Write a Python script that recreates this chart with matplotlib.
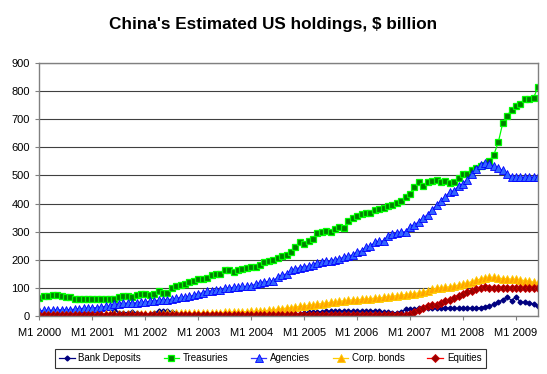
import matplotlib
matplotlib.use("Agg")
import matplotlib.pyplot as plt
import numpy as np

plt.rcParams["font.family"] = ["Liberation Sans", "DejaVu Sans"]

# monthly, M1 2000 .. M6 2009
TICK_LABELS = ["M1 %d" % y for y in range(2000, 2010)]

bank_deposits = [
    1, 1, 1, 1, 1, 1, 1, 1, 1, 1, 1, 1,
    1, 1, 1, 1, 1, 22, 12, 12, 12, 13, 10, 5,
    3, 3, 12, 16, 18, 18, 15, 12, 8, 5, 5, 5,
    5, 5, 5, 5, 5, 5, 5, 5, 5, 5, 5, 5,
    5, 5, 5, 5, 5, 5, 5, 5, 6, 6, 7, 8,
    10, 13, 14, 15, 15, 16, 16, 17, 17, 17, 18, 17,
    16, 16, 17, 18, 18, 17, 15, 13, 12, 12, 14, 24,
    25, 26, 27, 28, 28, 29, 29, 28, 28, 28, 27, 27,
    28, 28, 27, 28, 30, 33, 36, 41, 49, 58, 68, 55,
    68, 50, 48, 46, 42, 35,
]

treasuries = [
    64, 70, 72, 73, 75, 70, 67, 66, 62, 61, 60, 60,
    60, 60, 60, 60, 61, 61, 68, 70, 70, 68, 75, 78,
    78, 76, 78, 88, 82, 82, 98, 105, 110, 115, 120, 125,
    132, 133, 135, 146, 148, 148, 165, 162, 156, 163, 166, 172,
    175, 175, 180, 193, 195, 198, 205, 212, 217, 227, 246, 262,
    257, 267, 275, 294, 300, 302, 299, 310, 318, 313, 338, 350,
    356, 364, 368, 368, 376, 379, 383, 391, 394, 402, 408, 424,
    433, 459, 475, 464, 476, 479, 485, 478, 479, 473, 475, 491,
    506, 506, 520, 526, 534, 538, 553, 574, 618, 685, 712, 734,
    746, 753, 773, 773, 776, 814,
]

agencies = [
    18, 20, 20, 21, 22, 22, 22, 23, 24, 26, 27, 28,
    29, 30, 32, 34, 35, 42, 44, 45, 46, 46, 47, 48,
    50, 52, 54, 56, 58, 58, 60, 63, 66, 68, 70, 73,
    80, 82, 88, 90, 92, 94, 98, 100, 102, 103, 105, 105,
    108, 113, 118, 122, 123, 125, 138, 145, 150, 162, 168, 172,
    176, 178, 182, 190, 193, 195, 196, 200, 203, 210, 213, 218,
    228, 232, 245, 248, 262, 265, 268, 285, 292, 296, 298, 300,
    318, 325, 335, 350, 360, 378, 394, 410, 425, 440, 446, 462,
    470, 485, 505, 522, 536, 544, 541, 532, 526, 518, 506, 496,
    494, 494, 494, 495, 494, 494,
]

corp_bonds = [
    3, 3, 3, 3, 4, 4, 4, 4, 4, 5, 5, 5,
    5, 5, 5, 6, 6, 6, 6, 6, 7, 7, 7, 7,
    7, 8, 8, 8, 8, 9, 9, 9, 9, 10, 10, 10,
    10, 11, 11, 11, 12, 12, 13, 13, 14, 14, 15, 15,
    16, 17, 18, 19, 20, 22, 24, 26, 28, 30, 32, 34,
    36, 38, 40, 42, 44, 46, 48, 50, 52, 54, 56, 57,
    58, 59, 60, 62, 63, 64, 66, 68, 70, 72, 74, 76,
    78, 80, 82, 85, 90, 95, 98, 100, 102, 104, 107, 110,
    113, 118, 122, 127, 132, 135, 138, 137, 135, 133, 132, 131,
    130, 128, 126, 124, 120, 116,
]

equities = [
    2, 2, 2, 2, 2, 2, 2, 2, 2, 2, 2, 2,
    2, 2, 2, 2, 2, 2, 2, 2, 2, 2, 2, 2,
    2, 2, 2, 2, 2, 2, 2, 2, 2, 2, 2, 2,
    3, 3, 3, 3, 3, 3, 3, 3, 3, 3, 3, 3,
    3, 3, 3, 3, 3, 3, 3, 3, 3, 3, 3, 3,
    4, 4, 4, 4, 4, 4, 4, 4, 4, 4, 4, 4,
    4, 4, 4, 4, 4, 4, 4, 4, 4, 4, 4, 4,
    8, 14, 20, 30, 34, 38, 40, 46, 52, 58, 64, 72,
    80, 86, 90, 95, 100, 102, 101, 101, 100, 101, 101, 100,
    100, 101, 100, 100, 101, 100,
]

SERIES = [
    ("Bank Deposits", bank_deposits, dict(color="#000080", marker="D", ms=2.5,
                                          mfc="#000080", mec="#000080", lw=0.9)),
    ("Treasuries", treasuries, dict(color="#00FF00", marker="s", ms=5,
                                    mfc="#008000", mec="#00FF00", mew=0.9, lw=0.9)),
    ("Agencies", agencies, dict(color="#3333FF", marker="^", ms=5.5,
                                mfc="#3366FF", mec="#0000FF", mew=0.6, lw=0.9)),
    ("Corp. bonds", corp_bonds, dict(color="#FFCC00", marker="^", ms=5.5,
                                     mfc="#FFA500", mec="#FFCC00", mew=0.6, lw=0.9)),
    ("Equities", equities, dict(color="#FF0000", marker="D", ms=4,
                                mfc="#990000", mec="#CC0000", mew=0.6, lw=0.9)),
]

fig = plt.figure(figsize=(5.47, 3.74), dpi=100)
ax = fig.add_axes([0.0722, 0.1551, 0.9113, 0.6765])

x = np.arange(len(treasuries))
for name, vals, style in SERIES:
    ax.plot(x, vals, label=name, **style)

ax.set_xlim(0, len(x) - 1)
ax.set_ylim(0, 900)
ax.set_yticks(range(0, 901, 100))
ax.set_xticks(range(0, len(x), 12))
ax.set_xticklabels(TICK_LABELS)
ax.tick_params(axis="both", labelsize=8, direction="out", length=3,
               color="#808080")
ax.tick_params(axis="x", pad=6)
ax.tick_params(axis="y", pad=4)
ax.yaxis.grid(True, color="#404040", lw=0.8)
ax.set_axisbelow(True)
for sp in ax.spines.values():
    sp.set_color("#808080")
    sp.set_linewidth(1)

fig.suptitle("China's Estimated US holdings, \\$ billion", x=0.5, y=0.955,
             fontsize=12.3, fontweight="bold")

leg = fig.legend(loc="lower center", bbox_to_anchor=(0.494, 0.004), ncol=5,
                 fontsize=7, frameon=True, fancybox=False, edgecolor="black",
                 handlelength=1.6, columnspacing=2.3, handletextpad=0.4,
                 borderpad=0.45)
leg.get_frame().set_linewidth(0.8)

fig.savefig("out.png", dpi=100)
